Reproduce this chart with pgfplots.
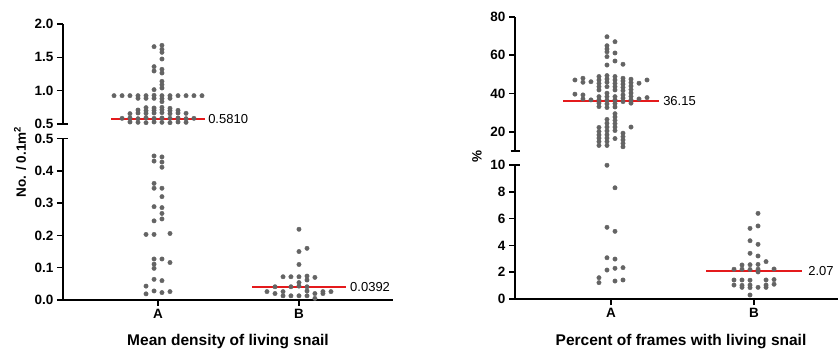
\documentclass[border=0pt]{standalone}
\usepackage{fontspec}
\setmainfont{Liberation Sans}
\usepackage{pgfplots}
\pgfplotsset{compat=1.18}
\definecolor{dotgray}{RGB}{100,100,100}
\definecolor{medred}{RGB}{228,26,28}
\pgfplotsset{
  base/.style={scale only axis, clip=false,
    axis line style={line width=1.8pt, black},
    tick style={line width=1.6pt, black},
    major tick length=6pt, tick align=outside,
    ticklabel style={font=\fontsize{13.5}{15}\selectfont\bfseries},
    /pgf/number format/assume math mode=true,
    axis y line*=left},
  dots/.style={only marks, mark=*, mark size=2.2pt, color=dotgray, mark options={draw=none, fill=dotgray}},
  med/.style={medred, line width=2pt, no marks}
}
\tikzset{medlab/.style={anchor=west, inner sep=0pt, font=\fontsize{13}{15}\selectfont},
  brk/.style={line width=1.6pt, black}}
\begin{document}
\begin{tikzpicture}
\path[use as bounding box] (0,0) rectangle (839pt,351pt);
% ---------- left upper ----------
\begin{axis}[base, at={(63pt,227pt)}, anchor=south west, width=330pt, height=100pt,
  xmin=0.326, xmax=2.667, ymin=0.5, ymax=2.0, axis x line=none,
  ytick={0.5,1,1.5,2}, yticklabels={0.5,1.0,1.5,2.0}]
\addplot[dots] coordinates {
(0.972,1.66) (1.028,1.68) (1.028,1.62) (1.028,1.575) (1.028,1.475)
(0.972,1.36) (0.972,1.295) (1.028,1.32) (1.028,1.265)
(1.028,1.14) (1.028,1.09) (1.028,1.04) (0.972,1.015)
(0.688,0.925) (0.745,0.925) (0.801,0.925) (0.858,0.925) (0.915,0.925) (0.972,0.93)
(1.028,0.925) (1.085,0.925) (1.142,0.925) (1.199,0.925) (1.255,0.925) (1.312,0.925)
(0.858,0.885) (0.915,0.885) (0.972,0.885) (1.028,0.88) (1.028,0.835) (1.085,0.885)
(0.915,0.745) (0.972,0.74) (1.028,0.75) (1.085,0.735)
(0.858,0.71) (0.915,0.70) (0.972,0.705) (1.028,0.715) (1.085,0.70) (1.142,0.705)
(0.801,0.655) (0.858,0.665) (0.915,0.66) (0.972,0.665) (1.028,0.67) (1.085,0.655) (1.142,0.665) (1.199,0.66)
(0.745,0.585) (0.801,0.59) (0.858,0.58) (0.915,0.595) (0.972,0.585) (1.028,0.59) (1.085,0.585) (1.142,0.59) (1.199,0.58) (1.255,0.585)
(0.801,0.53) (0.858,0.525) (0.915,0.52) (0.972,0.53) (1.028,0.525) (1.085,0.52) (1.142,0.53) (1.199,0.525)
};
\addplot[med] coordinates {(0.667,0.581) (1.333,0.581)};
\node[medlab] at (axis cs:1.355,0.581) {0.5810};
\draw[brk] (rel axis cs:0,0) -- ([xshift=5pt]rel axis cs:0,0);
\end{axis}
% ---------- left lower ----------
\begin{axis}[base, at={(63pt,51pt)}, anchor=south west, width=330pt, height=161.5pt,
  xmin=0.326, xmax=2.667, ymin=0, ymax=0.5, axis x line*=bottom,
  xtick={1,2}, xticklabels={A,B},
  ytick={0,0.1,0.2,0.3,0.4,0.5}, yticklabels={0.0,0.1,0.2,0.3,0.4,0.5}]
\addplot[dots] coordinates {
(0.972,0.446) (0.972,0.430) (1.028,0.443) (1.028,0.427) (1.028,0.411)
(0.972,0.361) (0.972,0.346) (1.028,0.346) (1.028,0.320)
(0.972,0.289) (1.028,0.286) (1.028,0.268) (1.028,0.251) (0.972,0.245)
(0.915,0.203) (0.972,0.203) (1.085,0.206)
(0.972,0.127) (0.972,0.111) (0.972,0.098) (1.028,0.127) (1.085,0.116)
(0.972,0.064) (1.028,0.060) (0.915,0.043)
(0.915,0.019) (0.972,0.028) (1.028,0.023) (1.085,0.026)
};
\addplot[dots] coordinates {
(2,0.219) (2,0.150) (2.057,0.160) (2,0.110)
(1.887,0.072) (1.943,0.072) (2,0.072) (2.057,0.074) (2.113,0.070) (2.057,0.062)
(2,0.054)
(1.830,0.041) (1.943,0.041) (2,0.043) (2.057,0.041)
(1.773,0.026) (1.887,0.026) (2.057,0.028) (2.170,0.026) (2.227,0.026)
(1.830,0.020) (2.113,0.020) (2.170,0.020)
(1.887,0.013) (1.943,0.013) (2,0.013) (2.057,0.013)
(2.113,0.005)
};
\addplot[med] coordinates {(1.667,0.0392) (2.333,0.0392)};
\node[medlab] at (axis cs:2.362,0.0392) {0.0392};
\draw[brk] (rel axis cs:0,1) -- ([xshift=5pt]rel axis cs:0,1);
\end{axis}
% ---------- right upper ----------
\begin{axis}[base, at={(515pt,200pt)}, anchor=south west, width=323pt, height=134pt,
  xmin=0.329, xmax=2.587, ymin=10, ymax=80, axis x line=none,
  ytick={20,40,60,80}]
\addplot[dots] coordinates {
(0.972,69.7) (1.028,67.1) (0.972,65.0) (0.972,63.3) (0.972,61.8) (1.028,61.2)
(0.972,59.3) (1.028,57.0) (0.972,54.9) (1.084,55.3)
(0.748,47.1) (0.748,39.7)
(0.804,48.0) (0.804,45.9) (0.804,39.3) (0.804,37.2)
(0.860,46.2) (0.860,36.7)
(0.916,48.9) (0.916,47.1) (0.916,45.3) (0.916,43.6) (0.916,41.9) (0.916,38.4) (0.916,36.7) (0.916,35.0) (0.916,33.2)
(0.972,49.4) (0.972,47.6) (0.972,45.9) (0.972,43.6) (0.972,40.2) (0.972,38.4) (0.972,36.5) (0.972,34.6) (0.972,32.7)
(1.028,48.9) (1.028,47.1) (1.028,45.3) (1.028,43.6) (1.028,41.9) (1.028,38.4) (1.028,36.7) (1.028,34.8) (1.028,33.0)
(1.084,48.0) (1.084,46.6) (1.084,44.9) (1.084,43.2) (1.084,41.5) (1.084,39.3) (1.084,37.6) (1.084,35.8)
(1.140,47.5) (1.140,45.7) (1.140,43.9) (1.140,42.1) (1.140,40.3) (1.140,38.5) (1.140,36.7) (1.140,35.0)
(1.196,45.4) (1.196,37.2)
(1.252,47.1) (1.252,37.9)
(1.028,29.5) (1.028,27.8) (1.028,26.0) (1.028,24.3) (1.028,22.5) (1.028,20.7) (1.028,16.5)
(0.972,26.5) (0.972,24.5) (0.972,22.5) (0.972,20.5) (0.972,18.5) (0.972,16.7) (0.972,14.9) (0.972,12.9)
(0.916,22.3) (0.916,20.2) (0.916,18.4) (0.916,16.7) (0.916,14.9) (0.916,12.9)
(1.084,19.3) (1.084,17.5) (1.084,15.8) (1.084,14.0) (1.084,12.2)
(1.140,22.5)
};
\addplot[med] coordinates {(0.667,36.15) (1.333,36.15)};
\node[medlab] at (axis cs:1.364,36.15) {36.15};
\draw[brk] ([xshift=-4.5pt]rel axis cs:0,0) -- ([xshift=4.5pt]rel axis cs:0,0);
\end{axis}
% ---------- right lower ----------
\begin{axis}[base, at={(515pt,52pt)}, anchor=south west, width=323pt, height=134pt,
  xmin=0.329, xmax=2.587, ymin=0, ymax=10, axis x line*=bottom,
  xtick={1,2}, xticklabels={A,B},
  ytick={0,2,4,6,8,10}]
\addplot[dots] coordinates {
(0.972,9.98) (1.028,8.3) (0.972,5.35) (1.028,5.05) (0.972,3.08) (1.028,2.98)
(0.972,2.16) (1.028,2.29) (1.084,2.34) (0.916,1.59) (0.916,1.22) (1.028,1.34) (1.084,1.42)
};
\addplot[dots] coordinates {
(2.028,6.39) (1.972,5.27) (2.028,5.45) (1.972,4.35) (2.028,4.08) (1.972,3.41) (2.028,3.21)
(1.916,2.54) (1.972,2.56) (2.028,2.58) (2.084,2.79)
(1.860,2.22) (1.916,2.22) (1.972,2.20) (2.028,2.22) (2.140,2.24) (2.028,2.02)
(1.860,1.42) (1.916,1.42) (1.972,1.40) (2.084,1.42) (2.140,1.45)
(1.860,1.04) (1.916,1.02) (1.972,1.04) (2.084,1.04) (2.140,1.10)
(1.916,0.87) (1.972,0.85) (2.028,0.87) (2.084,0.87)
(1.972,0.30)
};
\addplot[med] coordinates {(1.667,2.07) (2.333,2.07)};
\node[medlab] at (axis cs:2.378,2.07) {2.07};
\draw[brk] (rel axis cs:0,1) -- ([xshift=4.5pt]rel axis cs:0,1);
\end{axis}
% ---------- labels ----------
\node[rotate=90, font=\fontsize{13.5}{15}\selectfont\bfseries] at (20pt,189pt) {No. / 0.1m\textsuperscript{2}};
\node[rotate=90, font=\fontsize{13.5}{15}\selectfont\bfseries] at (477pt,194pt) {\%};
\node[anchor=base, font=\fontsize{15.5}{18}\selectfont\bfseries] at (228pt,5pt) {Mean density of living snail};
\node[anchor=base, font=\fontsize{15.5}{18}\selectfont\bfseries] at (681pt,5pt) {Percent of frames with living snail};
\end{tikzpicture}
\end{document}
